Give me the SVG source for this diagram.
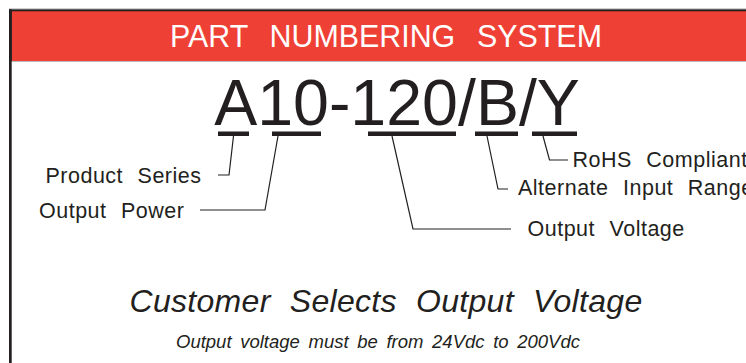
<svg xmlns="http://www.w3.org/2000/svg" width="746" height="363" viewBox="0 0 746 363">
<style>
.t{font-family:"Liberation Sans",Arial,sans-serif;fill:#231f20}
.lbl{font-size:21.5px;letter-spacing:0.5px;word-spacing:8px}
.bar{fill:#231f20}
.ld{fill:none;stroke:#231f20;stroke-width:1.2}
</style>
<rect x="0" y="0" width="746" height="363" fill="#ffffff"/>
<g id="frame">
<line x1="9" y1="8.5" x2="746" y2="8.5" stroke="#cfcfcf" stroke-width="1"/>
<rect x="9" y="9.3" width="737" height="52" fill="#231f20"/>
<rect x="11.7" y="11.3" width="734.3" height="49.7" fill="#ef4036"/>
<rect x="9" y="9.3" width="2.7" height="353.7" fill="#231f20"/>
</g>
<g id="title">
<text class="t" transform="translate(386,46.5) scale(0.95,1)" text-anchor="middle" font-size="32" style="fill:#ffffff;word-spacing:14px">PART NUMBERING SYSTEM</text>
</g>
<g id="partnumber">
<text class="t" x="397" y="125" text-anchor="middle" font-size="64.5">A10-120/B/Y</text>
<rect class="bar" x="218" y="131.5" width="31" height="4.5"/>
<rect class="bar" x="272" y="131.5" width="49" height="4.5"/>
<rect class="bar" x="368" y="131.5" width="88" height="4.5"/>
<rect class="bar" x="475" y="131.5" width="43" height="4.5"/>
<rect class="bar" x="532" y="131.5" width="45" height="4.5"/>
</g>
<g id="connectors">
<polyline class="ld" points="233.5,136 229,175 218,175"/>
<polyline class="ld" points="278,136 265,210 200,210"/>
<polyline class="ld" points="392,136 413,229 511,229"/>
<polyline class="ld" points="487,136 498,189 508,189"/>
<polyline class="ld" points="543,136 549.5,160 568,160"/>
</g>
<g id="product-series"><text class="t lbl" x="45.5" y="182.7">Product Series</text></g>
<g id="output-power"><text class="t lbl" x="39" y="217.5">Output Power</text></g>
<g id="rohs"><text class="t lbl" x="572.5" y="166.7">RoHS Compliant</text></g>
<g id="alt-input"><text class="t lbl" x="518" y="195">Alternate Input Range</text></g>
<g id="output-voltage"><text class="t lbl" x="527.5" y="235.7">Output Voltage</text></g>
<g id="customer">
<text class="t" x="386" y="311.5" text-anchor="middle" font-size="32" font-style="italic" style="word-spacing:10px;letter-spacing:0.3px">Customer Selects Output Voltage</text>
<text class="t" x="378" y="348.3" text-anchor="middle" font-size="18.5" font-style="italic" style="word-spacing:3.5px">Output voltage must be from 24Vdc to 200Vdc</text>
</g>
</svg>
